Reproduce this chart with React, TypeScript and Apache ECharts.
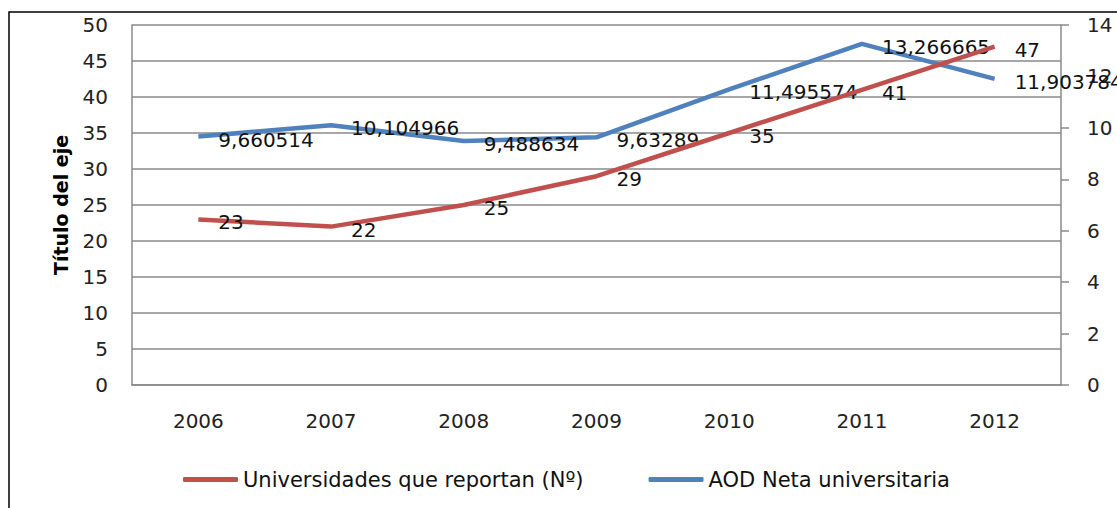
import React, { useEffect, useRef } from "react";
import * as echarts from "echarts";

const categories = ["2006", "2007", "2008", "2009", "2010", "2011", "2012"];
const universidades = [23, 22, 25, 29, 35, 41, 47];
const aodNeta = [9.660514, 10.104966, 9.488634, 9.63289, 11.495574, 13.266665, 11.903784];
const seriesNames = ["Universidades que reportan (Nº)", "AOD Neta universitaria"];
const leftAxisTitle = "Título del eje";

const FONT = "DejaVu Sans";

export default function App() {
  const ref = useRef<HTMLDivElement>(null);
  useEffect(() => {
    if (!ref.current) return;
    const chart = echarts.init(ref.current, null, { renderer: "svg" });
    const labelStyle = {
      show: true,
      position: "right" as const,
      distance: 20,
      offset: [0, 3],
      color: "#111",
      fontFamily: FONT,
      fontSize: 20,
    };
    chart.setOption({
      animation: false,
      backgroundColor: "#fff",
      textStyle: { fontFamily: FONT },
      graphic: [
        {
          type: "rect",
          shape: { x: 9, y: 12, width: 1300, height: 700 },
          style: { fill: "none", stroke: "#000", lineWidth: 1.5 },
          silent: true,
        },
      ],
      grid: { left: 132, right: 56, top: 25, bottom: 123, containLabel: false },
      legend: {
        left: 178,
        top: 464,
        icon: "roundRect",
        itemWidth: 55,
        itemHeight: 5,
        itemGap: 65,
        textStyle: { fontFamily: FONT, fontSize: 21, color: "#111" },
        data: seriesNames,
      },
      xAxis: {
        type: "category",
        data: categories,
        boundaryGap: true,
        axisLine: { show: true, lineStyle: { color: "#8a8a8a", width: 1.5 } },
        axisTick: { show: false },
        axisLabel: { margin: 26, fontSize: 20, fontFamily: FONT, color: "#222" },
      },
      yAxis: [
        {
          type: "value",
          min: 0,
          max: 50,
          interval: 5,
          name: leftAxisTitle,
          nameLocation: "middle",
          nameGap: 62,
          nameRotate: 90,
          nameTextStyle: { fontFamily: FONT, fontSize: 19, fontWeight: "bold", color: "#000" },
          axisLine: { show: true, lineStyle: { color: "#8a8a8a", width: 1.5 } },
          axisTick: { show: false },
          axisLabel: { margin: 24, fontSize: 20, fontFamily: FONT, color: "#222" },
          splitLine: { show: true, lineStyle: { color: "#8a8a8a", width: 1.5 } },
        },
        {
          type: "value",
          min: 0,
          max: 14,
          interval: 2,
          position: "right",
          axisLine: { show: true, lineStyle: { color: "#8a8a8a", width: 1.5 } },
          axisTick: { show: true, inside: false, length: 8, lineStyle: { color: "#8a8a8a", width: 1.5 } },
          axisLabel: { margin: 26, fontSize: 20, fontFamily: FONT, color: "#222" },
          splitLine: { show: false },
        },
      ],
      series: [
        {
          name: seriesNames[0],
          type: "line",
          data: universidades,
          yAxisIndex: 0,
          symbol: "circle",
          symbolSize: 0,
          showSymbol: true,
          lineStyle: { color: "#C0504D", width: 4.5 },
          itemStyle: { color: "#C0504D" },
          label: { ...labelStyle },
          z: 3,
        },
        {
          name: seriesNames[1],
          type: "line",
          data: aodNeta,
          yAxisIndex: 1,
          symbol: "circle",
          symbolSize: 0,
          showSymbol: true,
          lineStyle: { color: "#4F81BD", width: 4.5 },
          itemStyle: { color: "#4F81BD" },
          label: {
            ...labelStyle,
            formatter: (p: any) => String(p.value).replace(".", ","),
          },
          z: 2,
        },
      ],
    });
    return () => chart.dispose();
  }, []);
  return (
    <div
      ref={ref}
      style={{ position: "fixed", left: 0, top: 0, width: 1117, height: 508 }}
    />
  );
}
